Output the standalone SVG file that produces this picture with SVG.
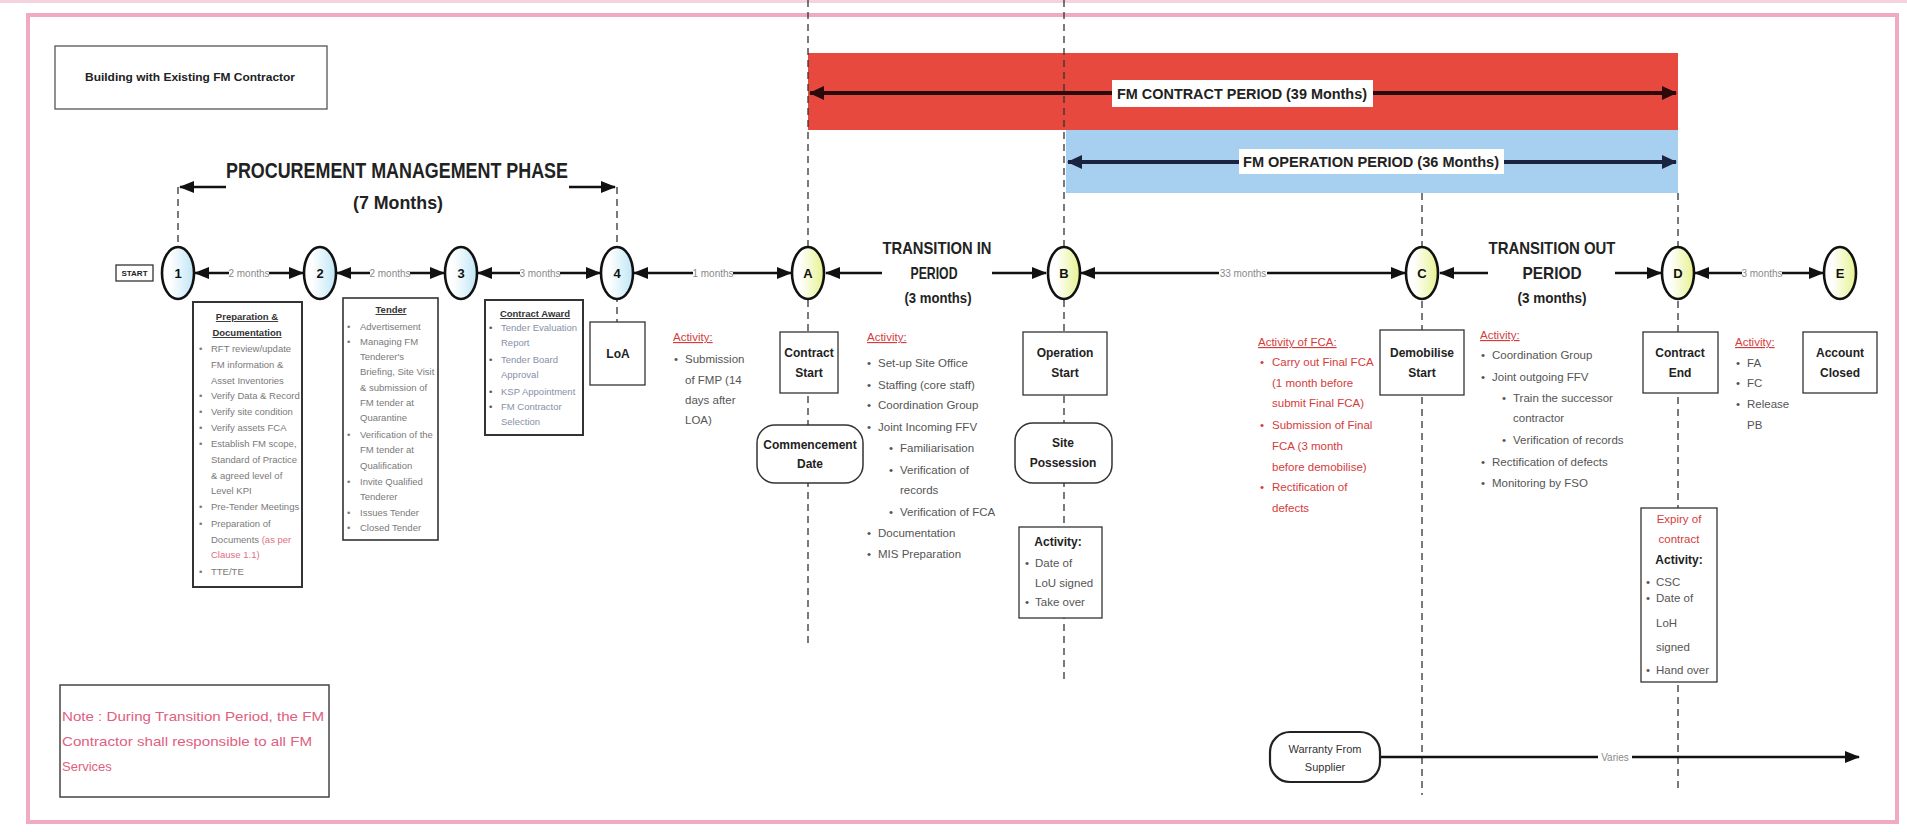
<svg xmlns="http://www.w3.org/2000/svg" width="1907" height="832" viewBox="0 0 1907 832">
<defs>
<style>
text{font-family:"Liberation Sans",Arial,sans-serif}
.frame{fill:none;stroke:#f0aac2;stroke-width:4}
.box{fill:#fff;stroke:#333;stroke-width:1.3}
.tbox{fill:#fff;stroke:#222;stroke-width:1.8}
.dash{fill:none;stroke:#333;stroke-width:1.3;stroke-dasharray:7 5}
.tl{fill:none;stroke:#111;stroke-width:2.6;marker-start:url(#ah);marker-end:url(#ah)}
.one{fill:none;stroke:#111;stroke-width:2.6;marker-end:url(#ah)}
.nb{fill:url(#gb);stroke:#111;stroke-width:2.6}
.ny{fill:url(#gy);stroke:#111;stroke-width:2.6}
.nl{font-size:13px;font-weight:bold;fill:#111;text-anchor:middle}
.ml{font-size:10px;fill:#8a8a8a;text-anchor:middle}
.mbg{fill:#fff}
.bt{font-size:12px;font-weight:bold;fill:#222;text-anchor:middle}
.sm{font-size:9.5px;fill:#7a7a7a}
.smh{font-size:9.5px;font-weight:bold;fill:#333;text-anchor:middle;text-decoration:underline}
.act{font-size:11.5px;fill:#d43c3c;text-decoration:underline}
.li{font-size:11.5px;fill:#555}
.lr{font-size:11.5px;fill:#d43c3c}
.head{font-weight:bold;fill:#222;text-anchor:middle}
</style>
<marker id="ah" markerUnits="userSpaceOnUse" markerWidth="16" markerHeight="12" refX="14" refY="6" orient="auto-start-reverse"><path d="M0,0 L15,6 L0,12 Z" fill="#111"/></marker>
<marker id="ahr" markerUnits="userSpaceOnUse" markerWidth="16" markerHeight="14" refX="14" refY="7" orient="auto-start-reverse"><path d="M0,0 L15,7 L0,14 Z" fill="#2a0a0a"/></marker>
<marker id="ahb" markerUnits="userSpaceOnUse" markerWidth="16" markerHeight="14" refX="14" refY="7" orient="auto-start-reverse"><path d="M0,0 L15,7 L0,14 Z" fill="#1a2440"/></marker>
<linearGradient id="gb" x1="0" y1="0" x2="1" y2="0"><stop offset="0.25" stop-color="#ffffff"/><stop offset="1" stop-color="#bfe6f6"/></linearGradient>
<linearGradient id="gy" x1="0" y1="0" x2="1" y2="0"><stop offset="0.25" stop-color="#ffffff"/><stop offset="1" stop-color="#e6f28e"/></linearGradient>
</defs>
<rect width="1907" height="832" fill="#fff"/>
<rect x="0" y="0" width="1907" height="3" fill="#f6d2de"/>
<rect class="frame" x="28" y="15" width="1869" height="807"/>

<g id="title">
<rect x="55" y="46" width="272" height="63" fill="#fff" stroke="#555" stroke-width="1.3"/>
<text x="190" y="81" font-size="11.5" font-weight="bold" fill="#222" text-anchor="middle" textLength="210" lengthAdjust="spacingAndGlyphs">Building with Existing FM Contractor</text>
</g>

<g id="bands">
<rect x="808" y="53" width="870" height="77" fill="#e8493f"/>
<rect x="1066" y="130" width="612" height="63" fill="#a6cff0"/>
</g>

<g id="connectors">
<path class="dash" d="M808 0 V645"/>
<path class="dash" d="M1064 0 V683"/>
<path class="dash" d="M1422 193 V795"/>
<path class="dash" d="M1678 193 V790"/>
<path class="dash" d="M617 187 V322"/>
<path class="dash" d="M178 187 V248"/>
<line x1="226" y1="187" x2="180" y2="187" class="one"/>
<line x1="569" y1="187" x2="615" y2="187" class="one"/>
<line x1="810" y1="93" x2="1676" y2="93" stroke="#2a0a0a" stroke-width="4" marker-start="url(#ahr)" marker-end="url(#ahr)"/>
<line x1="1068" y1="162" x2="1676" y2="162" stroke="#1a2440" stroke-width="4" marker-start="url(#ahb)" marker-end="url(#ahb)"/>
<line x1="195" y1="273" x2="303" y2="273" class="tl"/>
<line x1="337" y1="273" x2="444" y2="273" class="tl"/>
<line x1="478" y1="273" x2="600" y2="273" class="tl"/>
<line x1="634" y1="273" x2="791" y2="273" class="tl"/>
<line x1="1081" y1="273" x2="1405" y2="273" class="tl"/>
<line x1="1695" y1="273" x2="1823" y2="273" class="tl"/>
<line x1="882" y1="273" x2="826" y2="273" class="one"/>
<line x1="992" y1="273" x2="1046" y2="273" class="one"/>
<line x1="1488" y1="273" x2="1440" y2="273" class="one"/>
<line x1="1615" y1="273" x2="1661" y2="273" class="one"/>
<line x1="1380" y1="757" x2="1859" y2="757" class="one" stroke-width="2.2"/>
<rect class="mbg" x="229" y="267" width="40" height="12"/><text class="ml" x="249" y="277">2 months</text>
<rect class="mbg" x="370" y="267" width="40" height="12"/><text class="ml" x="390" y="277">2 months</text>
<rect class="mbg" x="520" y="267" width="40" height="12"/><text class="ml" x="540" y="277">3 months</text>
<rect class="mbg" x="693" y="267" width="40" height="12"/><text class="ml" x="713" y="277">1 months</text>
<rect class="mbg" x="1219" y="267" width="48" height="12"/><text class="ml" x="1243" y="277">33 months</text>
<rect class="mbg" x="1742" y="267" width="40" height="12"/><text class="ml" x="1762" y="277">3 months</text>
<rect class="mbg" x="1598" y="751" width="34" height="12"/><text class="ml" x="1615" y="761">Varies</text>
<rect x="1112" y="80" width="261" height="27" fill="#fff"/>
<text x="1242" y="99" font-size="14" class="head" textLength="250" lengthAdjust="spacingAndGlyphs">FM CONTRACT PERIOD (39 Months)</text>
<rect x="1239" y="149" width="265" height="25" fill="#fff"/>
<text x="1371" y="167" font-size="14" class="head" textLength="256" lengthAdjust="spacingAndGlyphs">FM OPERATION PERIOD (36 Months)</text>
</g>

<g id="phase-labels">
<text x="397" y="178" font-size="22" class="head" textLength="342" lengthAdjust="spacingAndGlyphs">PROCUREMENT MANAGEMENT PHASE</text>
<text x="398" y="209" font-size="19" class="head" textLength="90" lengthAdjust="spacingAndGlyphs">(7 Months)</text>
<text x="937" y="254" font-size="17" class="head" textLength="109" lengthAdjust="spacingAndGlyphs">TRANSITION IN</text>
<text x="934" y="279" font-size="17" class="head" textLength="47" lengthAdjust="spacingAndGlyphs">PERIOD</text>
<text x="938" y="303" font-size="14" class="head" textLength="67" lengthAdjust="spacingAndGlyphs">(3 months)</text>
<text x="1552" y="254" font-size="17" class="head" textLength="127" lengthAdjust="spacingAndGlyphs">TRANSITION OUT</text>
<text x="1552" y="279" font-size="17" class="head" textLength="59" lengthAdjust="spacingAndGlyphs">PERIOD</text>
<text x="1552" y="303" font-size="14" class="head" textLength="69" lengthAdjust="spacingAndGlyphs">(3 months)</text>
</g>

<g id="start"><rect x="116" y="265" width="37" height="16" fill="#fff" stroke="#333" stroke-width="1.3"/><text x="134.5" y="276" font-size="8" font-weight="bold" fill="#222" text-anchor="middle">START</text></g>
<g id="node-1"><ellipse class="nb" cx="178" cy="273" rx="16" ry="26"/><text class="nl" x="178" y="278">1</text></g>
<g id="node-2"><ellipse class="nb" cx="320" cy="273" rx="16" ry="26"/><text class="nl" x="320" y="278">2</text></g>
<g id="node-3"><ellipse class="nb" cx="461" cy="273" rx="16" ry="26"/><text class="nl" x="461" y="278">3</text></g>
<g id="node-4"><ellipse class="nb" cx="617" cy="273" rx="16" ry="26"/><text class="nl" x="617" y="278">4</text></g>
<g id="node-A"><ellipse class="ny" cx="808" cy="273" rx="16" ry="26"/><text class="nl" x="808" y="278">A</text></g>
<g id="node-B"><ellipse class="ny" cx="1064" cy="273" rx="16" ry="26"/><text class="nl" x="1064" y="278">B</text></g>
<g id="node-C"><ellipse class="ny" cx="1422" cy="273" rx="16" ry="26"/><text class="nl" x="1422" y="278">C</text></g>
<g id="node-D"><ellipse class="ny" cx="1678" cy="273" rx="16" ry="26"/><text class="nl" x="1678" y="278">D</text></g>
<g id="node-E"><ellipse class="ny" cx="1840" cy="273" rx="16" ry="26"/><text class="nl" x="1840" y="278">E</text></g>

<g id="box-preparation">
<rect x="193" y="302" width="109" height="285" fill="#fff" stroke="#333" stroke-width="2"/>
<text class="smh" x="247" y="320">Preparation &amp;</text>
<text class="smh" x="247" y="336">Documentation</text>
<g class="sm">
<text x="199" y="352">•</text><text x="211" y="352">RFT review/update</text>
<text x="211" y="368">FM information &amp;</text>
<text x="211" y="384">Asset Inventories</text>
<text x="199" y="399">•</text><text x="211" y="399">Verify Data &amp; Record</text>
<text x="199" y="415">•</text><text x="211" y="415">Verify site condition</text>
<text x="199" y="431">•</text><text x="211" y="431">Verify assets FCA</text>
<text x="199" y="447">•</text><text x="211" y="447">Establish FM scope,</text>
<text x="211" y="463">Standard of Practice</text>
<text x="211" y="479">&amp; agreed level of</text>
<text x="211" y="494">Level KPI</text>
<text x="199" y="510">•</text><text x="211" y="510">Pre-Tender Meetings</text>
<text x="199" y="527">•</text><text x="211" y="527">Preparation of</text>
<text x="211" y="543">Documents <tspan fill="#e07080">(as per</tspan></text>
<text x="211" y="558" fill="#e07080">Clause 1.1)</text>
<text x="199" y="575">•</text><text x="211" y="575">TTE/TE</text>
</g>
</g>

<g id="box-tender">
<rect x="343" y="298" width="95" height="242" fill="#fff" stroke="#333" stroke-width="1.6"/>
<text class="smh" x="391" y="313">Tender</text>
<g class="sm">
<text x="347" y="330">•</text><text x="360" y="330">Advertisement</text>
<text x="347" y="345">•</text><text x="360" y="345">Managing FM</text>
<text x="360" y="360">Tenderer's</text>
<text x="360" y="375">Briefing, Site Visit</text>
<text x="360" y="391">&amp; submission of</text>
<text x="360" y="406">FM tender at</text>
<text x="360" y="421">Quarantine</text>
<text x="347" y="438">•</text><text x="360" y="438">Verification of the</text>
<text x="360" y="453">FM tender at</text>
<text x="360" y="469">Qualification</text>
<text x="347" y="485">•</text><text x="360" y="485">Invite Qualified</text>
<text x="360" y="500">Tenderer</text>
<text x="347" y="516">•</text><text x="360" y="516">Issues Tender</text>
<text x="347" y="531">•</text><text x="360" y="531">Closed Tender</text>
</g>
</g>

<g id="box-award">
<rect x="485" y="300" width="98" height="135" fill="#fff" stroke="#333" stroke-width="2"/>
<text class="smh" x="535" y="317">Contract Award</text>
<g class="sm" fill="#8890a8">
<text x="489" y="331" fill="#555">•</text><text x="501" y="331" fill="#8890a8">Tender Evaluation</text>
<text x="501" y="346" fill="#8890a8">Report</text>
<text x="489" y="363" fill="#555">•</text><text x="501" y="363" fill="#8890a8">Tender Board</text>
<text x="501" y="378" fill="#8890a8">Approval</text>
<text x="489" y="395" fill="#555">•</text><text x="501" y="395" fill="#8890a8">KSP Appointment</text>
<text x="489" y="410" fill="#555">•</text><text x="501" y="410" fill="#8890a8">FM Contractor</text>
<text x="501" y="425" fill="#8890a8">Selection</text>
</g>
</g>

<g id="box-loa"><rect class="box" x="590" y="322" width="55" height="63"/><text class="bt" x="618" y="358" font-weight="normal">LoA</text></g>

<g id="activity-loa">
<text class="act" x="673" y="341">Activity:</text>
<text class="li" x="674" y="363">•</text><text class="li" x="685" y="363">Submission</text>
<text class="li" x="685" y="384">of FMP (14</text>
<text class="li" x="685" y="404">days after</text>
<text class="li" x="685" y="424">LOA)</text>
</g>

<g id="box-contract-start"><rect class="box" x="780" y="332" width="58" height="61"/><text class="bt" x="809" y="357">Contract</text><text class="bt" x="809" y="377">Start</text></g>
<g id="commencement"><rect x="757" y="425" width="106" height="58" rx="18" fill="#fff" stroke="#333" stroke-width="1.5"/><text class="bt" x="810" y="449">Commencement</text><text class="bt" x="810" y="468">Date</text></g>

<g id="activity-transition-in">
<text class="act" x="867" y="341">Activity:</text>
<text class="li" x="867" y="367">•</text><text class="li" x="878" y="367">Set-up Site Office</text>
<text class="li" x="867" y="389">•</text><text class="li" x="878" y="389">Staffing (core staff)</text>
<text class="li" x="867" y="409">•</text><text class="li" x="878" y="409">Coordination Group</text>
<text class="li" x="867" y="431">•</text><text class="li" x="878" y="431">Joint Incoming FFV</text>
<text class="li" x="889" y="452">•</text><text class="li" x="900" y="452">Familiarisation</text>
<text class="li" x="889" y="474">•</text><text class="li" x="900" y="474">Verification of</text>
<text class="li" x="900" y="494">records</text>
<text class="li" x="889" y="516">•</text><text class="li" x="900" y="516">Verification of FCA</text>
<text class="li" x="867" y="537">•</text><text class="li" x="878" y="537">Documentation</text>
<text class="li" x="867" y="558">•</text><text class="li" x="878" y="558">MIS Preparation</text>
</g>

<g id="box-operation-start"><rect class="box" x="1023" y="332" width="84" height="63"/><text class="bt" x="1065" y="357">Operation</text><text class="bt" x="1065" y="377">Start</text></g>
<g id="site-possession"><rect x="1015" y="423" width="97" height="60" rx="18" fill="#fff" stroke="#333" stroke-width="1.5"/><text class="bt" x="1063" y="447">Site</text><text class="bt" x="1063" y="467">Possession</text></g>
<g id="activity-b">
<rect class="box" x="1019" y="527" width="83" height="91"/>
<text class="bt" x="1058" y="546" font-size="11.5">Activity:</text>
<text class="li" x="1025" y="567">•</text><text class="li" x="1035" y="567">Date of</text>
<text class="li" x="1035" y="587">LoU signed</text>
<text class="li" x="1025" y="606">•</text><text class="li" x="1035" y="606">Take over</text>
</g>

<g id="activity-fca">
<text class="act" x="1258" y="346">Activity of FCA:</text>
<text class="lr" x="1260" y="366">•</text><text class="lr" x="1272" y="366">Carry out Final FCA</text>
<text class="lr" x="1272" y="387">(1 month before</text>
<text class="lr" x="1272" y="407">submit Final FCA)</text>
<text class="lr" x="1260" y="429">•</text><text class="lr" x="1272" y="429">Submission of Final</text>
<text class="lr" x="1272" y="450">FCA (3 month</text>
<text class="lr" x="1272" y="471">before demobilise)</text>
<text class="lr" x="1260" y="491">•</text><text class="lr" x="1272" y="491">Rectification of</text>
<text class="lr" x="1272" y="512">defects</text>
</g>

<g id="box-demobilise"><rect class="box" x="1380" y="330" width="84" height="65"/><text class="bt" x="1422" y="357">Demobilise</text><text class="bt" x="1422" y="377">Start</text></g>

<g id="activity-transition-out">
<text class="act" x="1480" y="339">Activity:</text>
<text class="li" x="1481" y="359">•</text><text class="li" x="1492" y="359">Coordination Group</text>
<text class="li" x="1481" y="381">•</text><text class="li" x="1492" y="381">Joint outgoing FFV</text>
<text class="li" x="1502" y="402">•</text><text class="li" x="1513" y="402">Train the successor</text>
<text class="li" x="1513" y="422">contractor</text>
<text class="li" x="1502" y="444">•</text><text class="li" x="1513" y="444">Verification of records</text>
<text class="li" x="1481" y="466">•</text><text class="li" x="1492" y="466">Rectification of defects</text>
<text class="li" x="1481" y="487">•</text><text class="li" x="1492" y="487">Monitoring by FSO</text>
</g>

<g id="box-contract-end"><rect class="box" x="1643" y="332" width="75" height="61"/><text class="bt" x="1680" y="357">Contract</text><text class="bt" x="1680" y="377">End</text></g>
<g id="activity-d">
<rect class="box" x="1641" y="508" width="76" height="174"/>
<text x="1679" y="523" font-size="11.5" fill="#d43c3c" text-anchor="middle">Expiry of</text>
<text x="1679" y="543" font-size="11.5" fill="#d43c3c" text-anchor="middle">contract</text>
<text class="bt" x="1679" y="564" font-size="11.5">Activity:</text>
<text class="li" x="1646" y="586">•</text><text class="li" x="1656" y="586">CSC</text>
<text class="li" x="1646" y="602">•</text><text class="li" x="1656" y="602">Date of</text>
<text class="li" x="1656" y="627">LoH</text>
<text class="li" x="1656" y="651">signed</text>
<text class="li" x="1646" y="674">•</text><text class="li" x="1656" y="674">Hand over</text>
</g>

<g id="activity-e">
<text class="act" x="1735" y="346">Activity:</text>
<text class="li" x="1736" y="367">•</text><text class="li" x="1747" y="367">FA</text>
<text class="li" x="1736" y="387">•</text><text class="li" x="1747" y="387">FC</text>
<text class="li" x="1736" y="408">•</text><text class="li" x="1747" y="408">Release</text>
<text class="li" x="1747" y="429">PB</text>
</g>
<g id="box-account-closed"><rect class="box" x="1803" y="332" width="74" height="61"/><text class="bt" x="1840" y="357">Account</text><text class="bt" x="1840" y="377">Closed</text></g>

<g id="warranty"><rect x="1270" y="732" width="110" height="50" rx="20" fill="#fff" stroke="#222" stroke-width="2.2"/><text x="1325" y="753" font-size="11" fill="#333" text-anchor="middle">Warranty From</text><text x="1325" y="771" font-size="11" fill="#333" text-anchor="middle">Supplier</text></g>

<g id="note">
<rect x="60" y="685" width="269" height="112" fill="#fff" stroke="#444" stroke-width="1.5"/>
<text x="62" y="721" font-size="13" fill="#e06080" textLength="262" lengthAdjust="spacingAndGlyphs">Note : During Transition Period, the FM</text>
<text x="62" y="746" font-size="13" fill="#e06080" textLength="250" lengthAdjust="spacingAndGlyphs">Contractor shall responsible to all FM</text>
<text x="62" y="771" font-size="13" fill="#e06080">Services</text>
</g>
</svg>
